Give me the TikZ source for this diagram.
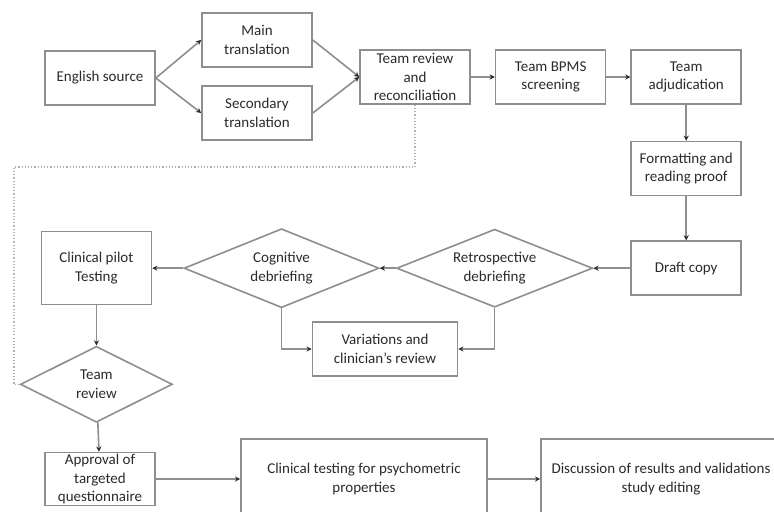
\documentclass[tikz,border=0pt]{standalone}
\usepackage{fontspec}
\setmainfont{Carlito}
\usepackage{xcolor}
\usetikzlibrary{shapes.geometric,arrows.meta,positioning,calc}
\definecolor{linegray}{HTML}{8E8E8E}
\definecolor{textgray}{HTML}{2A2A2A}

\begin{document}
\begin{tikzpicture}[x=0.5pt, y=-0.5pt, node distance=12pt,
    font=\fontsize{7.5}{9.2}\selectfont, text=textgray,
    >={Stealth[length=2.6pt,width=2.6pt,color=textgray]},
    box/.style={rectangle, draw=linegray, line width=0.8pt, align=center,
        minimum width=55pt, minimum height=27pt, inner sep=0.5pt},
    decision/.style={diamond, draw=linegray, line width=0.8pt, align=center,
        aspect=2.5, inner sep=0pt},
    flow/.style={->, draw=linegray, line width=0.8pt},
    back/.style={draw=linegray!70, line width=0.6pt, densely dotted}]
    \useasboundingbox (0,0) rectangle (774,512);

    % translation stage
    \node (src) [box] at (100,78) {English source};
    \node (main) [box] at (257,40) {Main\\translation};
    \node (second) [box] at (257,113) {Secondary\\translation};
    \node (rev) [box] at (415,77) {Team review\\and\\reconciliation};
    \node (bpms) [box, right=of rev] {Team BPMS\\screening};
    \node (adj) [box, right=of bpms] {Team\\adjudication};
    \node (fmt) [box, below=18pt of adj] {Formatting and\\reading proof};
    \node (draft) [box, below=22pt of fmt] {Draft copy};

    % debriefing stage
    \node (retro) [decision, minimum width=98pt, minimum height=39pt, left=18.5pt of draft] {Retrospective\\debriefing};
    \node (cog) [decision, minimum width=97.5pt, minimum height=39.5pt, left=8pt of retro] {Cognitive\\debriefing};
    \node (pilot) [box, minimum height=36.5pt, left=15.5pt of cog] {Clinical pilot\\Testing};
    \node (var) [box, minimum width=72.5pt] at (385,349) {Variations and\\clinician's review};
    \node (tr) [decision, aspect=2, minimum width=76pt, minimum height=38pt, below=20pt of pilot] {Team\\review};

    % testing stage
    \node (appr) [box, minimum height=26.5pt, inner sep=0pt] at (100,479) {Approval of\\targeted\\questionnaire};
    \node (clin) [box, minimum width=123pt, minimum height=40pt] at (364,479) {Clinical testing for psychometric\\properties};
    \node (disc) [box, minimum width=120pt, minimum height=40pt] at (661,479) {Discussion of results and validations\\study editing};

    \draw [flow] (src.east) -- (main.west);
    \draw [flow] (src.east) -- (second.west);
    \draw [flow] (main.east) -- (rev.west);
    \draw [flow] (second.east) -- (rev.west);
    \draw [flow] (rev) -- (bpms);
    \draw [flow] (bpms) -- (adj);
    \draw [flow] (adj) -- (fmt);
    \draw [flow] (fmt) -- (draft);
    \draw [flow] (draft) -- (retro);
    \draw [flow] (retro) -- (cog);
    \draw [flow] (cog) -- (pilot);
    \draw [flow] (retro.south) |- (var.east);
    \draw [flow] (cog.south) |- (var.west);
    \draw [flow] (pilot) -- (tr);
    \draw [flow] (tr) -- (appr);
    \draw [flow] (appr.east) -- (appr.east -| clin.west);
    \draw [flow] (clin.east) -- (clin.east -| disc.west);

    % loop back to the team review
    \draw [back] (tr.west) -| (14,167) -| (rev.south);
\end{tikzpicture}
\end{document}
